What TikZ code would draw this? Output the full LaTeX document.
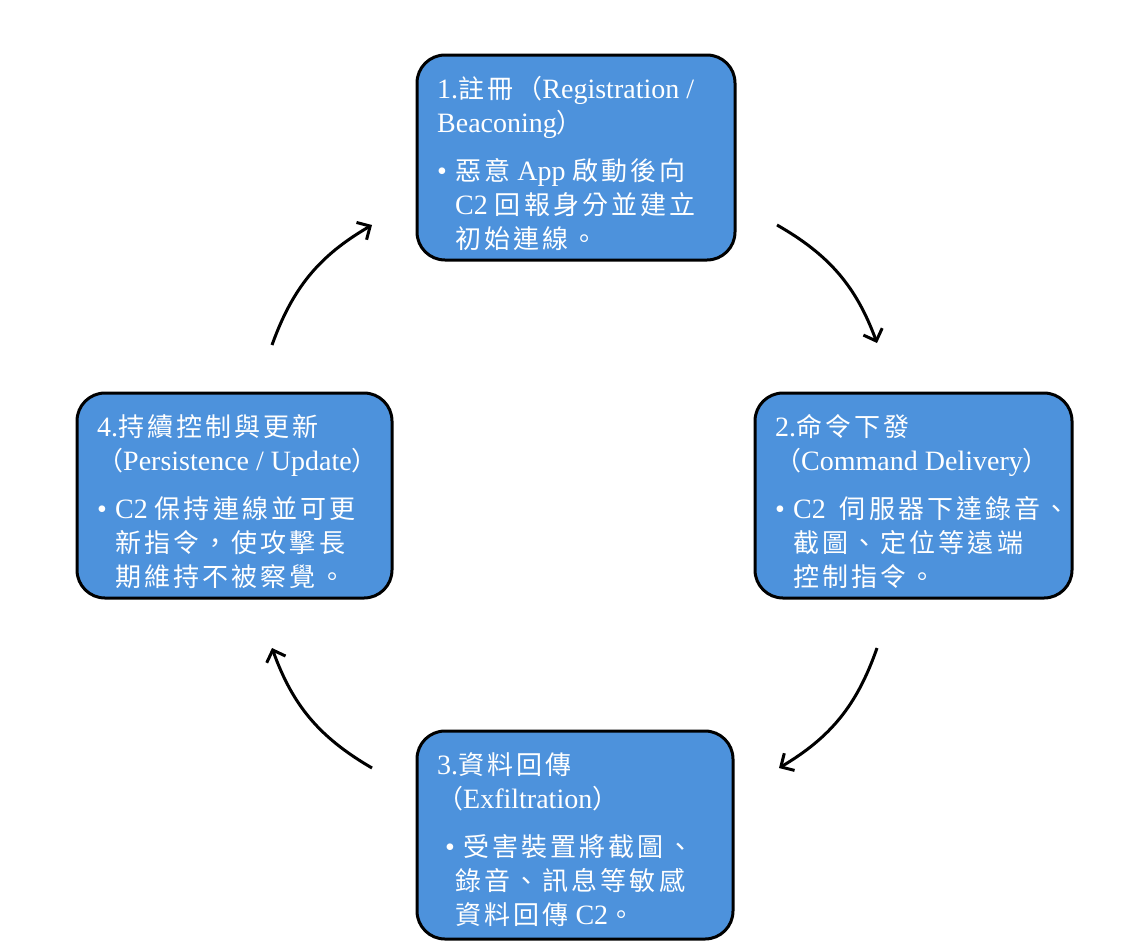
\documentclass[tikz,border=0pt]{standalone}
\usepackage{fontspec}
\setmainfont{Liberation Serif}
\newfontfamily\cjkf[LetterSpace=12]{Noto Sans CJK TC}
\newcommand\zh[1]{{\cjkf\fontsize{26}{34}\selectfont #1}}
\newcommand\ind{\hspace*{18pt}}
\newcommand\bul{\makebox[18pt][l]{•}}
\usetikzlibrary{arrows.meta}
\definecolor{boxblue}{RGB}{77,146,220}
\tikzset{
  stepbox/.style={draw=black, line width=3pt, fill=boxblue, rounded corners=28pt, inner sep=0pt},
  txt/.style={anchor=north west, align=left, text=white, inner sep=0pt, font=\fontsize{28}{34}\selectfont},
  flow/.style={line width=3pt, -{Straight Barb[length=10pt,width=20pt,line width=3pt]}, bend left=20}
}
\begin{document}
\begin{tikzpicture}[x=1pt,y=-1pt]
\useasboundingbox (0,0) rectangle (1135,946);
\fill[white] (0,0) rectangle (1135,946);
% boxes
\node[stepbox, minimum width=318pt, minimum height=205pt] (b1) at (576,157.5) {};
\node[stepbox, minimum width=317pt, minimum height=205pt] (b2) at (913.5,495.5) {};
\node[stepbox, minimum width=316pt, minimum height=208pt] (b3) at (575,835) {};
\node[stepbox, minimum width=315pt, minimum height=205pt] (b4) at (234.5,495.5) {};
% texts
\node[txt] (t1) at (437,76) {1.\zh{註冊（}Registration /\\Beaconing\zh{）}\\[14pt]
\bul\zh{惡意} App \zh{啟動後向}\\ \ind C2 \zh{回報身分並建立}\\ \ind\zh{初始連線。}};
\node[txt] (t2) at (775,414) {2.\zh{命令下發}\\\zh{（}Command Delivery\zh{）}\\[14pt]
\bul C2\ \ \zh{伺服器下達錄音、}\\ \ind\zh{截圖、定位等遠端}\\ \ind\zh{控制指令。}};
\node[txt] (t4) at (97,414) {4.\zh{持續控制與更新}\\\zh{（}Persistence / Update\zh{）}\\[14pt]
\bul C2 \zh{保持連線並可更}\\ \ind\zh{新指令，使攻擊長}\\ \ind\zh{期維持不被察覺。}};
\node[txt] (t3) at (437,752) {3.\zh{資料回傳}\\\zh{（}Exfiltration\zh{）}\\[14pt]
\hspace*{8pt}\bul\zh{受害裝置將截圖、}\\ \hspace*{18pt}\zh{錄音、訊息等敏感}\\ \hspace*{18pt}\zh{資料回傳} C2\zh{。}};
% arrows
\coordinate (a1s) at (777,225);
\coordinate (a1e) at (877,343);
\coordinate (a2s) at (877,648);
\coordinate (a2e) at (779,768);
\coordinate (a3s) at (372,768);
\coordinate (a3e) at (272,648);
\coordinate (a4s) at (272,345);
\coordinate (a4e) at (372,225);
\draw[flow] (a1s) to (a1e);
\draw[flow] (a2s) to (a2e);
\draw[flow] (a3s) to (a3e);
\draw[flow] (a4s) to (a4e);
\end{tikzpicture}
\end{document}
